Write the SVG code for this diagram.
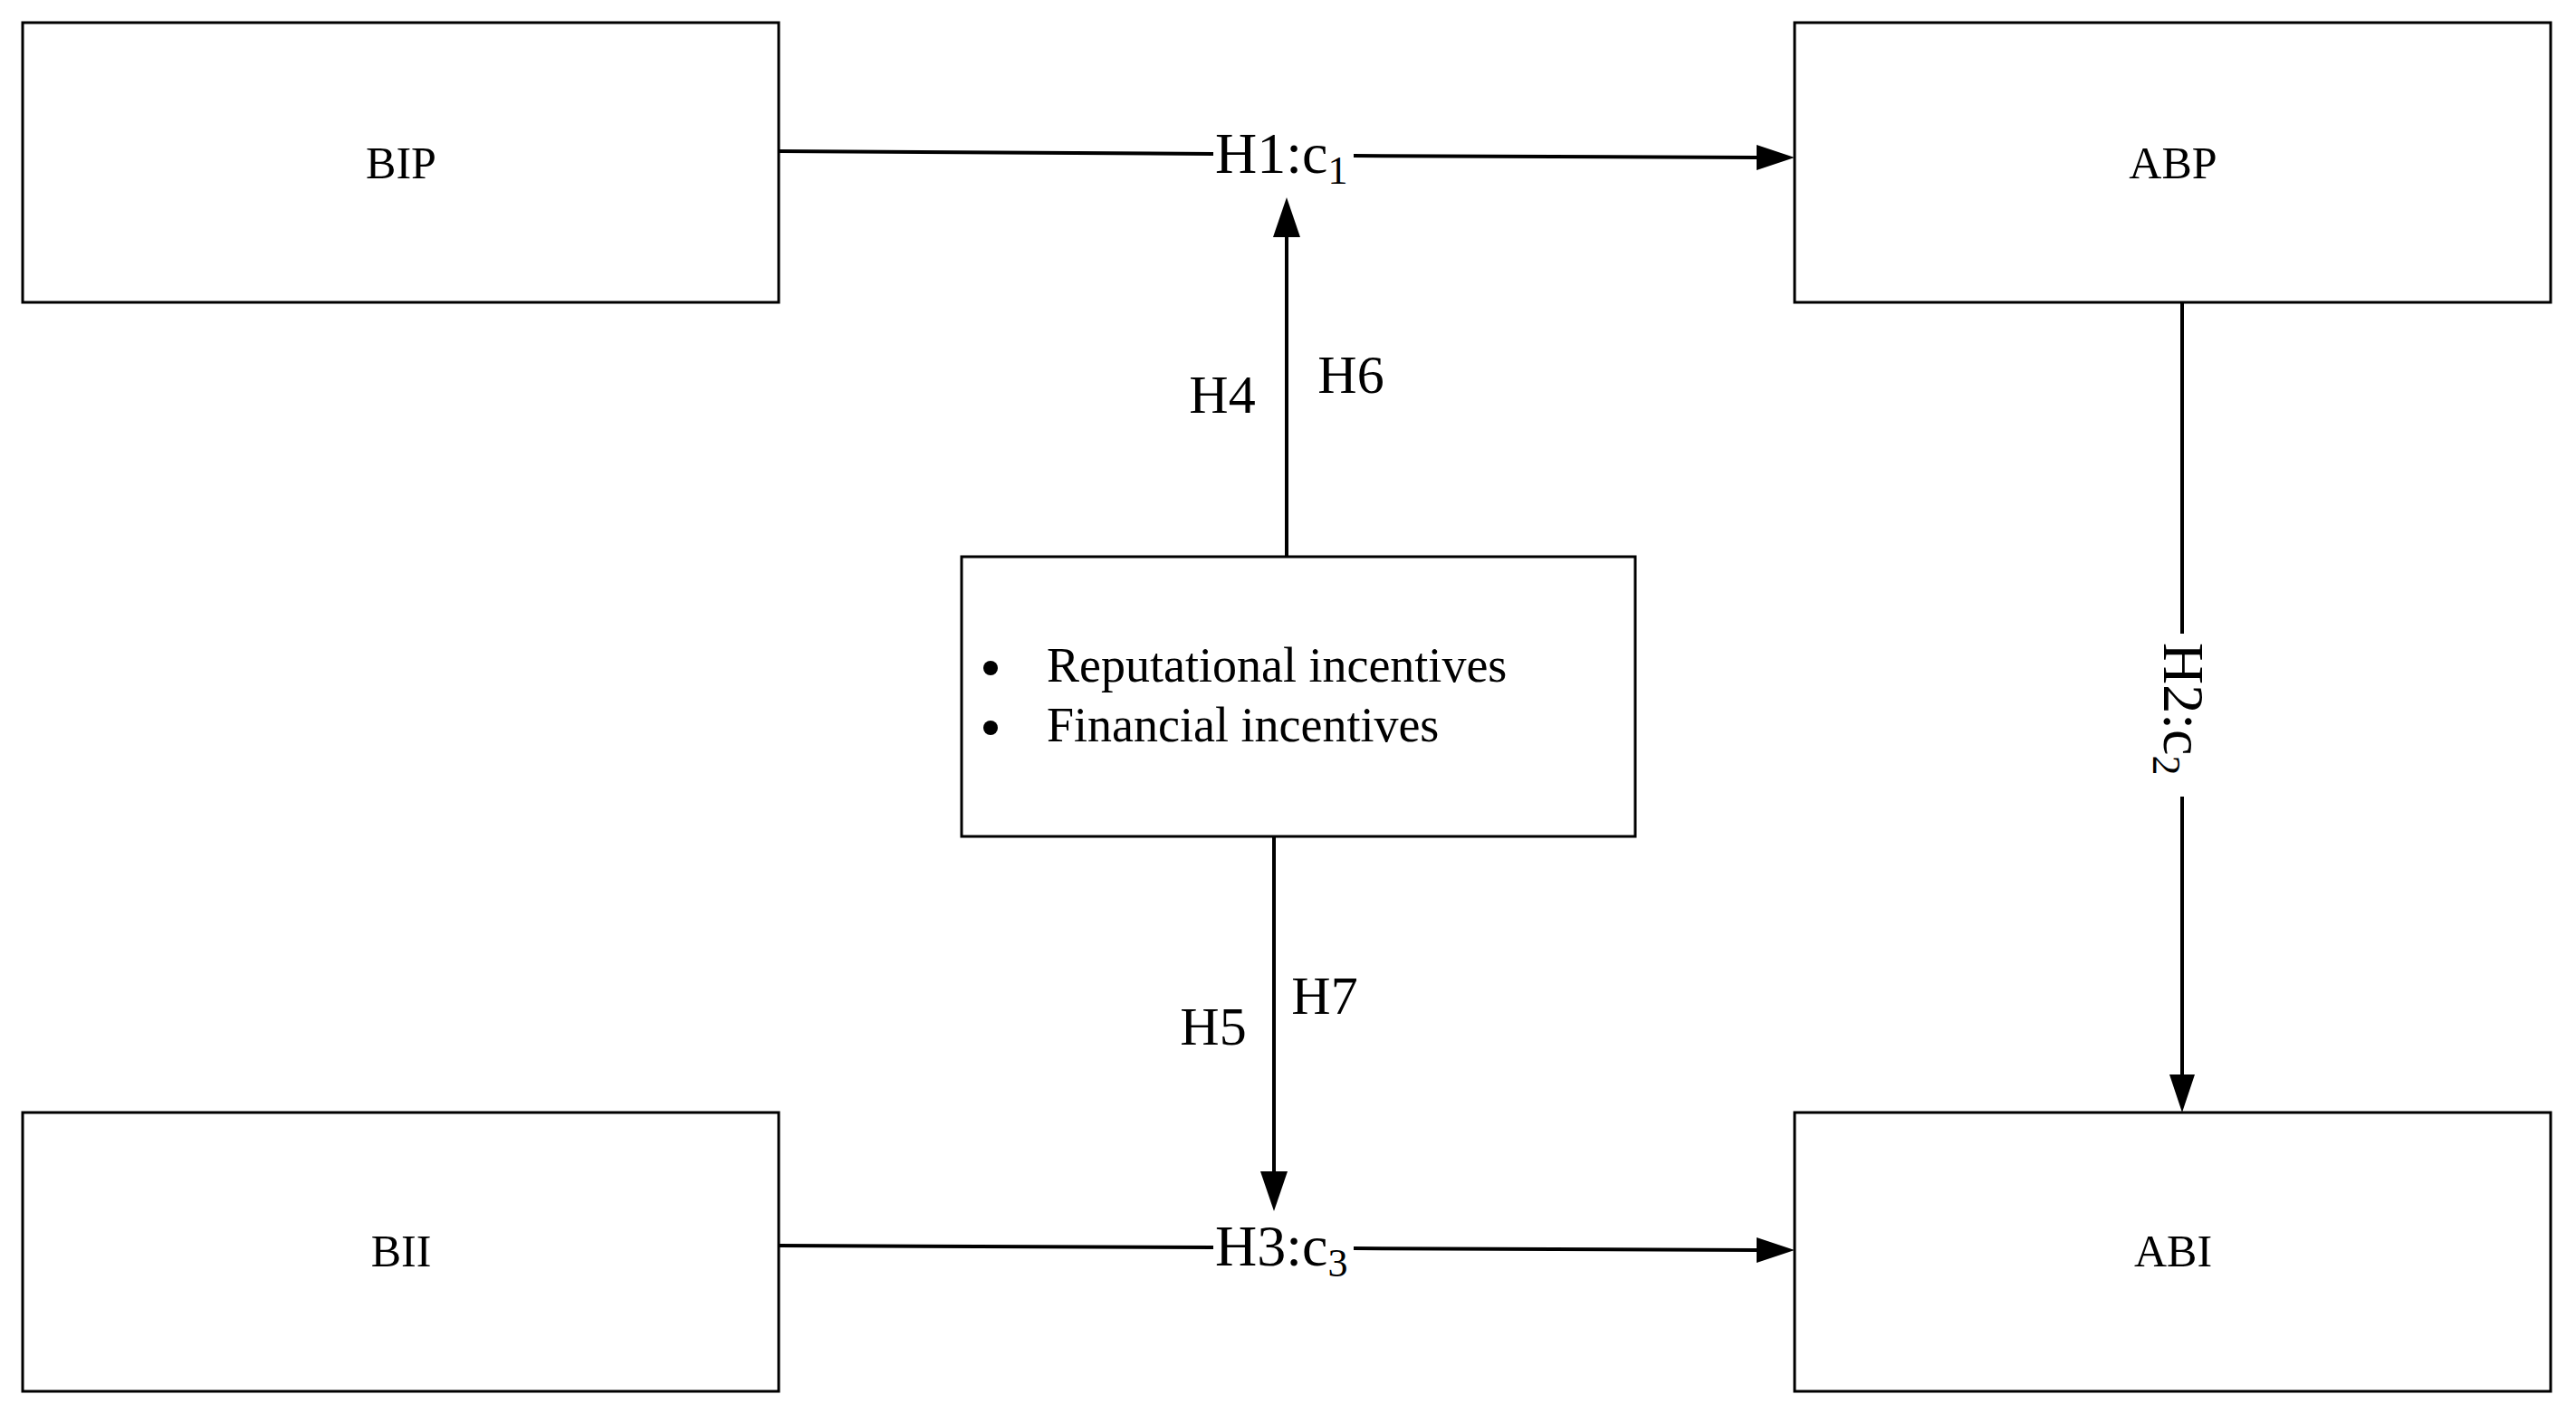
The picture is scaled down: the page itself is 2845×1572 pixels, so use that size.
<svg xmlns="http://www.w3.org/2000/svg" width="2845" height="1572" viewBox="0 0 2845 1572">
<defs>
<marker id="ah" markerWidth="10" markerHeight="8" refX="10" refY="4" orient="auto" markerUnits="userSpaceOnUse" viewBox="0 0 10 8">
<path d="M0,0 L10,4 L0,8 Z" fill="#000"/>
</marker>
<style>
.box{fill:#fff;stroke:#000;stroke-width:3}
.t{font-family:"Liberation Serif","Times New Roman",serif;fill:#000}
.c{stroke:#000;stroke-width:4;fill:none}
</style>
</defs>
<rect width="2845" height="1572" fill="#fff"/>
<g id="connectors">
<path class="c" d="M860,167 L1340,170"/>
<path class="c" d="M1495,172 L1940,174"/>
<path d="M1982,174 L1940,160 L1940,188 Z"/>
<path class="c" d="M1421,615 L1421,260"/>
<path d="M1421,218 L1406,262 L1436,262 Z"/>
<path class="c" d="M1407,924 L1407,1296"/>
<path d="M1407,1338 L1392,1294 L1422,1294 Z"/>
<path class="c" d="M860,1376 L1340,1378"/>
<path class="c" d="M1495,1379 L1940,1381"/>
<path d="M1982,1381 L1940,1367 L1940,1395 Z"/>
<path class="c" d="M2410,334 L2410,700"/>
<path class="c" d="M2410,880 L2410,1190"/>
<path d="M2410,1229 L2396,1187 L2424,1187 Z"/>
<text class="t" x="1342" y="191" font-size="64">H1:c<tspan font-size="44" dy="12">1</tspan></text>
<text class="t" x="1342" y="1398" font-size="64">H3:c<tspan font-size="44" dy="12">3</tspan></text>
<text class="t" transform="translate(2390,710) rotate(90)" font-size="64">H2:c<tspan font-size="44" dy="12">2</tspan></text>
<text class="t" x="1350" y="456" font-size="60" text-anchor="middle">H4</text>
<text class="t" x="1492" y="434" font-size="60" text-anchor="middle">H6</text>
<text class="t" x="1340" y="1154" font-size="60" text-anchor="middle">H5</text>
<text class="t" x="1463" y="1120" font-size="60" text-anchor="middle">H7</text>
</g>
<g id="BIP"><rect class="box" x="25" y="25" width="835" height="309"/><text class="t" x="443" y="197" font-size="50" text-anchor="middle">BIP</text></g>
<g id="ABP"><rect class="box" x="1982" y="25" width="835" height="309"/><text class="t" x="2400" y="197" font-size="50" text-anchor="middle">ABP</text></g>
<g id="BII"><rect class="box" x="25" y="1229" width="835" height="308"/><text class="t" x="443" y="1399" font-size="50" text-anchor="middle">BII</text></g>
<g id="ABI"><rect class="box" x="1982" y="1229" width="835" height="308"/><text class="t" x="2400" y="1399" font-size="50" text-anchor="middle">ABI</text></g>
<g id="incentives"><rect class="box" x="1062" y="615" width="744" height="309"/>
<circle cx="1094" cy="738" r="8"/><circle cx="1094" cy="804" r="8"/>
<text class="t" x="1156" y="753" font-size="54">Reputational incentives</text>
<text class="t" x="1156" y="819" font-size="54">Financial incentives</text></g>
</svg>
